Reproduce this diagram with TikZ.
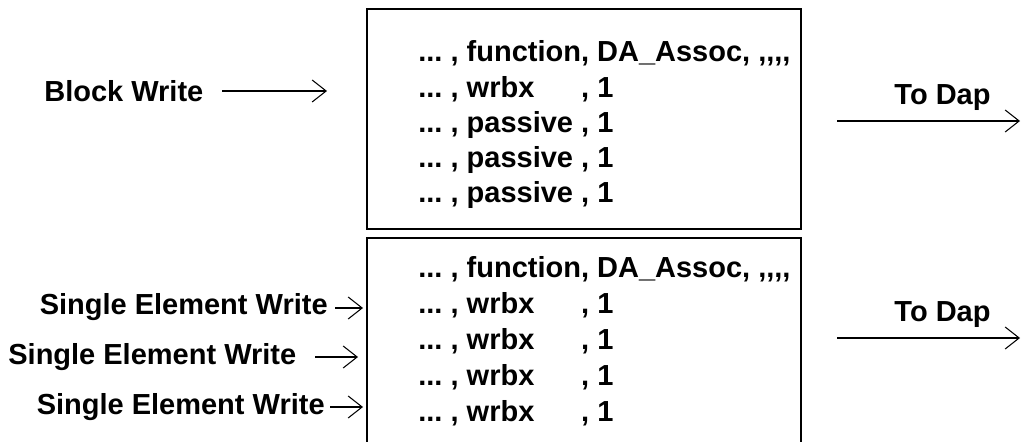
\documentclass[tikz,border=0pt]{standalone}
\usepackage{fontspec}
\setmainfont{Liberation Sans}
\usetikzlibrary{arrows.meta}

\begin{document}
\frenchspacing
\begin{tikzpicture}[
  txt/.style={font=\fontsize{16.5}{19.8}\selectfont\bfseries, inner sep=0pt},
  feed/.style={line width=0.6pt, -{Straight Barb[length=0.28cm,width=0.44cm]}},
  frame/.style={line width=1.1pt}]

\useasboundingbox (0,0) rectangle (20.42,8.84);

\coordinate (B1) at (7.34,8.66);
\coordinate (B2) at (16.02,4.26);
%
\coordinate (C1) at (7.34,-0.2);
\coordinate (C2) at (7.34,4.08);
\coordinate (C3) at (16.02,4.08);
\coordinate (C4) at (16.02,-0.2);

%boxes
\draw [frame]	(B1) rectangle (B2);		 %upper box
\draw [frame]	(C1)--(C2)--(C3)--(C4);		 %lower box

%upper box lines
\node[txt, anchor=base west] (u1) at (8.36,7.60) {... , function, DA\_Assoc, {,}{,}{,}{,}};
\node[txt, anchor=base west] (u2) at (8.36,6.88) {... , \rlap{wrbx}\phantom{passive} , 1};
\node[txt, anchor=base west] (u3) at (8.36,6.18) {... , passive , 1};
\node[txt, anchor=base west] (u4) at (8.36,5.48) {... , passive , 1};
\node[txt, anchor=base west] (u5) at (8.36,4.78) {... , passive , 1};
%lower box lines
\node[txt, anchor=base west] (l1) at (8.36,3.28) {... , function, DA\_Assoc, {,}{,}{,}{,}};
\node[txt, anchor=base west] (l2) at (8.36,2.56) {... , \rlap{wrbx}\phantom{passive} , 1};
\node[txt, anchor=base west] (l3) at (8.36,1.84) {... , \rlap{wrbx}\phantom{passive} , 1};
\node[txt, anchor=base west] (l4) at (8.36,1.12) {... , \rlap{wrbx}\phantom{passive} , 1};
\node[txt, anchor=base west] (l5) at (8.36,0.40) {... , \rlap{wrbx}\phantom{passive} , 1};

%inputs
\node[txt, anchor=base west] (bw)  at (0.88,6.80) {Block Write};
\node[txt, anchor=base east] (se1) at (6.56,2.54) {Single Element Write};
\node[txt, anchor=base west] (se2) at (0.16,1.54) {Single Element Write};
\node[txt, anchor=base east] (se3) at (6.50,0.54) {Single Element Write};
%
\coordinate (bw-a)  at (4.44,7.02);	\coordinate (bw-b)  at (6.54,7.02);
\coordinate (se1-a) at (6.70,2.68);	\coordinate (se1-b) at (7.26,2.68);
\coordinate (se2-a) at (6.30,1.70);	\coordinate (se2-b) at (7.16,1.70);
\coordinate (se3-a) at (6.60,0.70);	\coordinate (se3-b) at (7.26,0.70);
\draw [feed] (bw-a)--(bw-b);
\draw [feed] (se1-a)--(se1-b);
\draw [feed] (se2-a)--(se2-b);
\draw [feed] (se3-a)--(se3-b);

%outputs
\node[txt, anchor=base] (d1) at (18.85,6.74) {To Dap};
\node[txt, anchor=base] (d2) at (18.85,2.40) {To Dap};
%
\coordinate (d1-a) at (16.74,6.42);	\coordinate (d1-b) at (20.40,6.42);
\coordinate (d2-a) at (16.74,2.08);	\coordinate (d2-b) at (20.40,2.08);
\draw [feed] (d1-a)--(d1-b);
\draw [feed] (d2-a)--(d2-b);

\end{tikzpicture}
\end{document}
